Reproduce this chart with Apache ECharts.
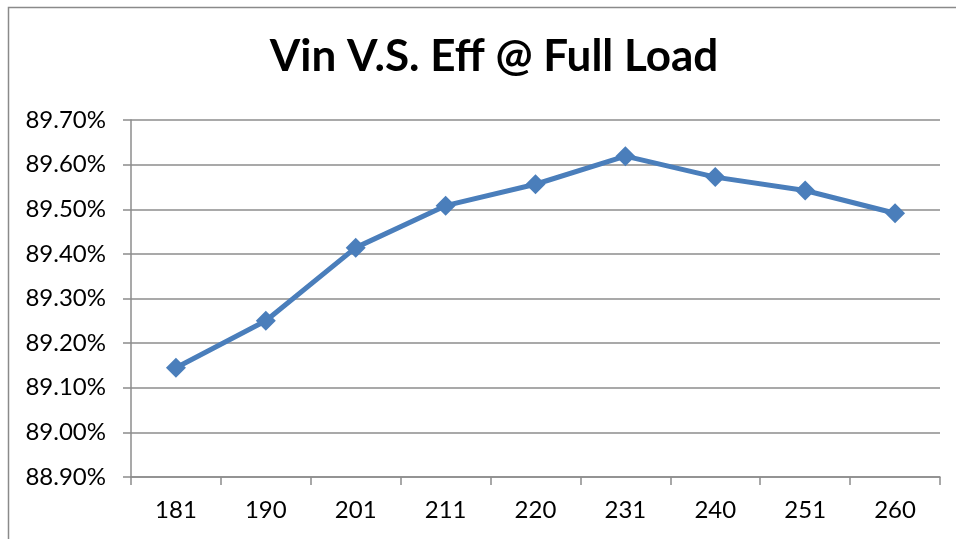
<!DOCTYPE html>
<html>
<head>
<meta charset="utf-8">
<script src="https://cdn.jsdelivr.net/npm/echarts@6/dist/echarts.min.js"></script>
<style>
  html, body { margin: 0; padding: 0; background: #fff; }
  #chart { width: 956px; height: 539px; }
</style>
</head>
<body>
<div id="chart"></div>
<script>
// input voltage (V)
const vinList = ['181', '190', '201', '211', '220', '231', '240', '251', '260'];
// efficiency at full load (%)
const effList = [89.145, 89.25, 89.414, 89.508, 89.556, 89.619, 89.572, 89.542, 89.491];

const chart = echarts.init(document.getElementById('chart'), null, { renderer: 'canvas' });

const gridColor = '#8c8c8c';
const fontName = 'Lato, "Open Sans", sans-serif';

const option = {
  animation: false,
  backgroundColor: '#fff',
  graphic: [{
    type: 'rect',
    shape: { x: 8.5, y: 7.5, width: 1000, height: 1000 },
    style: { fill: 'none', stroke: '#8a8a8a', lineWidth: 1.5 },
    silent: true
  }],
  title: {
    text: 'Vin V.S. Eff @ Full Load',
    left: 489,
    top: 30,
    textAlign: 'center',
    textStyle: {
      fontFamily: fontName,
      fontWeight: 'bold',
      fontSize: 44,
      color: '#000'
    }
  },
  grid: {
    left: 131,
    right: 16,
    top: 120,
    bottom: 62
  },
  xAxis: {
    type: 'category',
    data: vinList,
    boundaryGap: true,
    axisLine: { lineStyle: { color: gridColor, width: 1.5 } },
    axisTick: { show: true, length: 8, lineStyle: { color: gridColor, width: 1.5 } },
    axisLabel: {
      margin: 21,
      color: '#000',
      fontFamily: fontName,
      fontSize: 24
    }
  },
  yAxis: {
    type: 'value',
    min: 88.9,
    max: 89.7,
    interval: 0.1,
    axisLine: { show: true, lineStyle: { color: gridColor, width: 1.5 } },
    axisTick: { show: true, length: 8, lineStyle: { color: gridColor, width: 1.5 } },
    splitLine: { lineStyle: { color: gridColor, width: 1.5 } },
    axisLabel: {
      margin: 25,
      color: '#000',
      fontFamily: fontName,
      fontSize: 24,
      formatter: v => v.toFixed(2) + '%'
    }
  },
  series: [{
    type: 'line',
    data: effList,
    symbol: 'diamond',
    symbolSize: 20,
    lineStyle: { color: '#4a7ebb', width: 5 },
    itemStyle: { color: '#4a7ebb' }
  }]
};

chart.setOption(option);
</script>
</body>
</html>
